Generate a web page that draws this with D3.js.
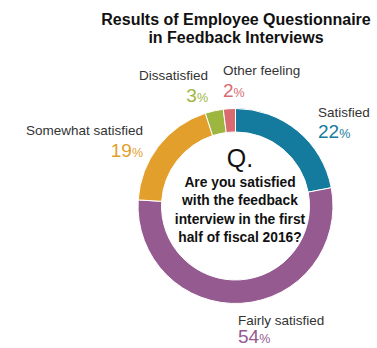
<!DOCTYPE html>
<html><head><meta charset="utf-8">
<script src="https://cdn.jsdelivr.net/npm/d3@7/dist/d3.min.js"></script>
<style>body{margin:0;background:#fff;}svg{display:block;font-family:"Liberation Sans",Arial,Helvetica,sans-serif;}</style>
</head><body><svg id="c" width="377" height="348"></svg>
<script>
const categories = ["Satisfied","Fairly satisfied","Somewhat satisfied","Dissatisfied","Other feeling"];
const values = [22,54,19,3,2];
const colors = ["#157b9e","#955a8f","#e29f2b","#9db640","#d96a70"];
const titleLines = ["Results of Employee Questionnaire","in Feedback Interviews"];
const questionLines = ["Are you satisfied","with the feedback","interview in the first","half of fiscal 2016?"];
// label layout: [x, name baseline y, value baseline y, anchor]
const labelPos = [[318,117,138,"start"],[238,325,343,"start"],[143,135,157,"end"],[208,80,102,"end"],[223,75,97,"start"]];

const svg = d3.select("#c");
const cx = 235.5, cy = 206, R = 97.5, r = 74;

svg.append("g").selectAll("text").data(titleLines).join("text")
  .attr("x",236).attr("y",(d,i)=>25+i*18)
  .attr("text-anchor","middle").attr("font-weight","bold").attr("font-size","16px").attr("fill","#111")
  .text(d=>d);

const pie = d3.pie().sort(null).value(d=>d);
const arc = d3.arc().innerRadius(r).outerRadius(R);
const g = svg.append("g").attr("transform",`translate(${cx},${cy})`);
g.selectAll("path").data(pie(values)).join("path")
  .attr("d",arc).attr("fill",(d,i)=>colors[i]).attr("stroke","#fff").attr("stroke-width",1);

const lab = svg.append("g");
categories.forEach((c,i)=>{
  const [x,y,vy,a] = labelPos[i];
  lab.append("text").attr("x",x).attr("y",y).attr("text-anchor",a)
    .attr("font-size","13.5px").attr("fill","#333").text(c);
  const t = lab.append("text").attr("x",x).attr("y",vy).attr("text-anchor",a).attr("fill",colors[i]);
  t.append("tspan").attr("font-size","19px").text(values[i]);
  t.append("tspan").attr("font-size","12.5px").text("%");
});

svg.append("text").attr("x",240).attr("y",167).attr("text-anchor","middle")
  .attr("font-size","25px").attr("fill","#111").text("Q.");
svg.append("g").selectAll("text").data(questionLines).join("text")
  .attr("x",240).attr("y",(d,i)=>187+i*18.3).attr("text-anchor","middle")
  .attr("font-weight","bold").attr("font-size","13.8px").attr("fill","#111").text(d=>d);
</script></body></html>
